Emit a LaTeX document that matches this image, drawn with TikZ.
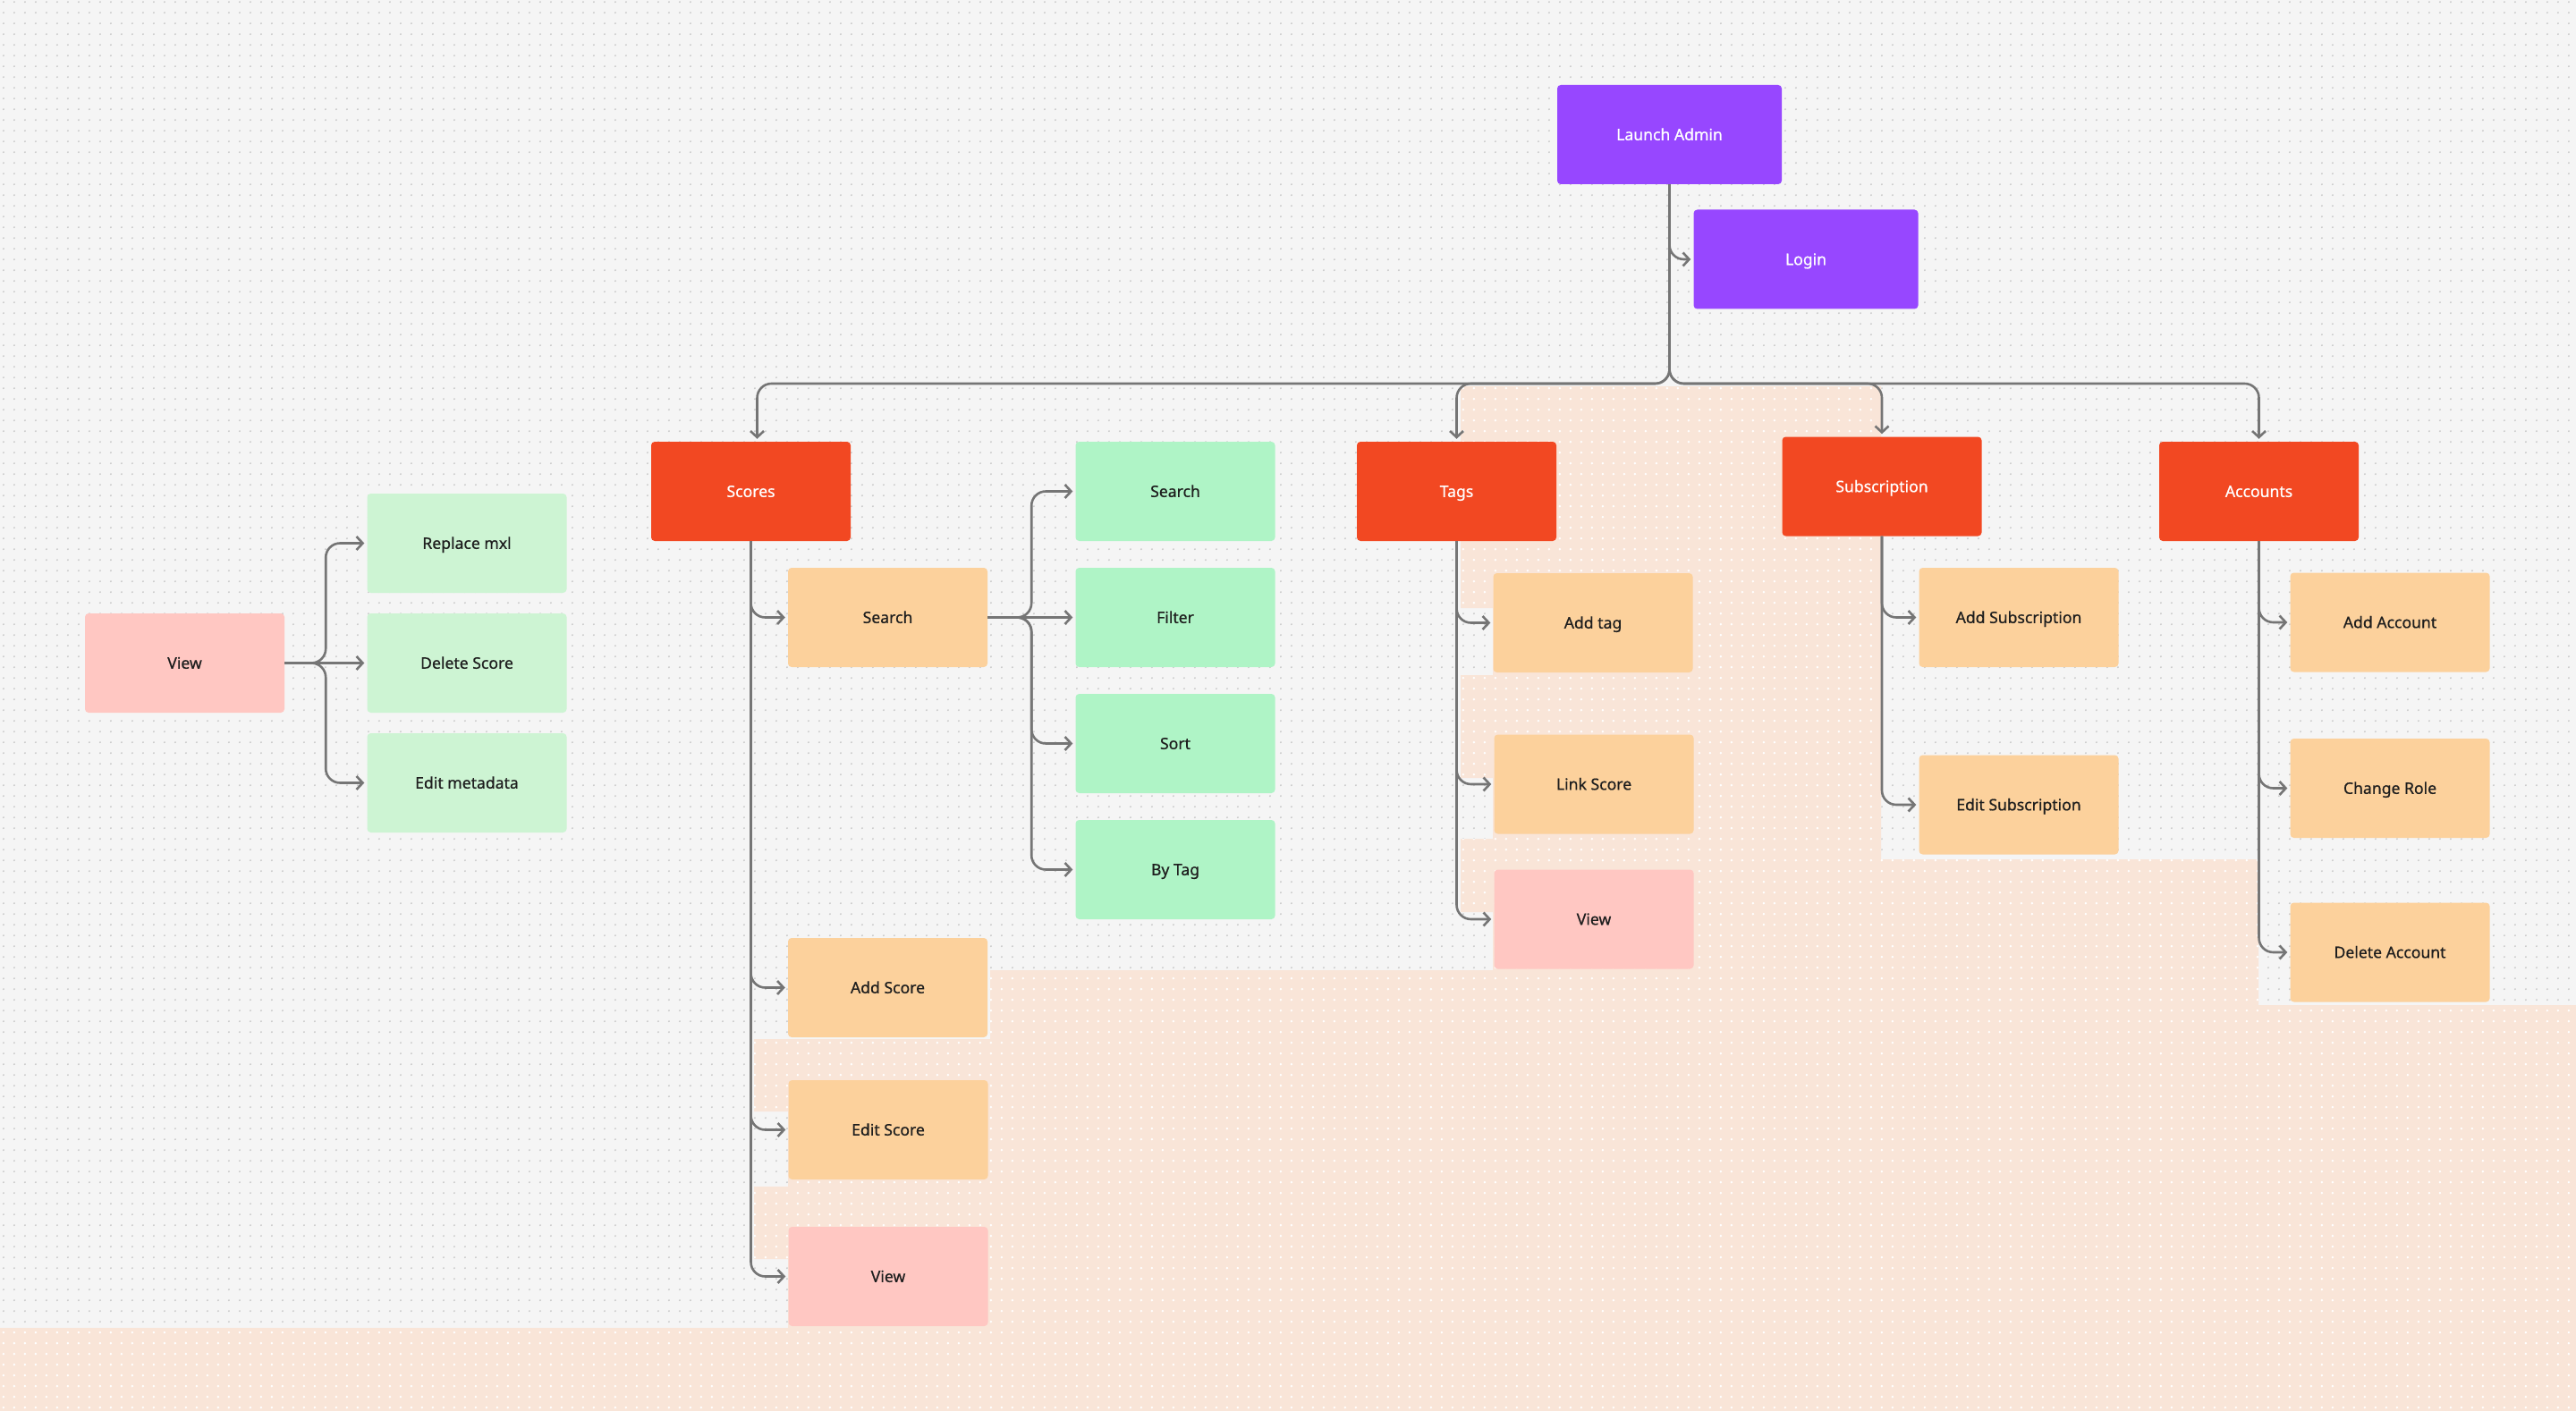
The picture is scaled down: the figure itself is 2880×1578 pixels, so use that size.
\documentclass[tikz,border=0pt]{standalone}
\usepackage{fontspec}
\setmainfont{Noto Sans}[FakeBold=0.6]
\usetikzlibrary{arrows.meta,patterns.meta}
\definecolor{bgc}{HTML}{F5F5F5}
\definecolor{gdot}{HTML}{C9C9C9}
\definecolor{peach}{HTML}{F9E5D8}
\definecolor{purp}{HTML}{9747FF}
\definecolor{redc}{HTML}{F24822}
\definecolor{orng}{HTML}{FCD19C}
\definecolor{grn}{HTML}{AFF4C6}
\definecolor{lgrn}{HTML}{CDF4D3}
\definecolor{pnk}{HTML}{FFC7C2}
\definecolor{txt}{HTML}{1E1E1E}
\definecolor{lc}{HTML}{757575}
\pgfdeclarepattern{
  name=gdots, type=uncolored,
  bottom left={\pgfpoint{0pt}{0pt}},
  top right={\pgfpoint{11.667pt}{11.667pt}},
  tile size={\pgfpoint{11.667pt}{11.667pt}},
  code={\pgfpathcircle{\pgfpoint{4pt}{3.9pt}}{1.1pt}\pgfusepath{fill}}
}
\pgfdeclarepattern{
  name=pdots, type=uncolored,
  bottom left={\pgfpoint{0pt}{0pt}},
  top right={\pgfpoint{11.667pt}{11.667pt}},
  tile size={\pgfpoint{11.667pt}{11.667pt}},
  code={\pgfpathcircle{\pgfpoint{4pt}{3.9pt}}{1.4pt}\pgfusepath{fill}}
}
\begin{document}
\begin{tikzpicture}[x=1pt,y=-1pt,
  box/.style={rectangle, rounded corners=4pt, minimum width=223pt, minimum height=111pt,
    inner sep=0pt, text height=12.6pt, text depth=0pt,
    font=\fontsize{17.6}{21}\selectfont, text=txt},
  purpbox/.style={box, fill=purp, text=white, minimum width=251pt},
  redbox/.style={box, fill=redc, text=white},
  orngbox/.style={box, fill=orng},
  grnbox/.style={box, fill=grn},
  lgrnbox/.style={box, fill=lgrn},
  pnkbox/.style={box, fill=pnk},
  conn/.style={draw=lc, line width=2.6pt, rounded corners=16pt,
    -{Straight Barb[length=7pt,width=15pt]}, shorten >=3pt},
]
\useasboundingbox (0,0) rectangle (2880,1578);
% background
\path[fill=bgc, postaction={pattern=gdots, pattern color=gdot}] (0,0) rectangle (2880,1578);
% peach region
\path[fill=peach, postaction={pattern=pdots, pattern color=white}]
  (1633,432) -- (2103,432) -- (2103,961) -- (2525,961) -- (2525,1124) -- (2880,1124)
  -- (2880,1578) -- (0,1578) -- (0,1485) -- (881,1485) -- (881,1408) -- (843,1408)
  -- (843,1327) -- (881,1327) -- (881,1243) -- (843,1243) -- (843,1162)
  -- (1107,1162) -- (1107,1085) -- (1669,1085) -- (1669,1020) -- (1633,1020)
  -- (1633,938) -- (1669,938) -- (1669,870) -- (1633,870) -- (1633,755)
  -- (1669,755) -- (1669,680) -- (1633,680) -- cycle;

% nodes
\node[purpbox] (LA) at (1866.5,150.5) {Launch Admin};
\node[purpbox] (Login) at (2019,290) {Login};
\node[redbox] (Scores) at (839.5,549.5) {Scores};
\node[redbox] (Tags) at (1628.5,549.5) {Tags};
\node[redbox] (Subs) at (2104,544) {Subscription};
\node[redbox] (Acc) at (2525.5,549.5) {Accounts};

\node[pnkbox] (ViewL) at (206.5,741.5) {View};
\node[lgrnbox] (Repl) at (522,607.5) {Replace mxl};
\node[lgrnbox] (DelS) at (522,741.5) {Delete Score};
\node[lgrnbox] (EditM) at (522,875.5) {Edit metadata};

\node[orngbox] (SearchO) at (992.5,690.5) {Search};
\node[grnbox] (SearchG) at (1314,549.5) {Search};
\node[grnbox] (Filter) at (1314,690.5) {Filter};
\node[grnbox] (Sort) at (1314,831.5) {Sort};
\node[grnbox] (ByTag) at (1314,972.5) {By Tag};
\node[orngbox] (AddS) at (992.5,1104.5) {Add Score};
\node[orngbox] (EditS) at (993,1263.5) {Edit Score};
\node[pnkbox] (ViewS) at (993,1427.5) {View};

\node[orngbox] (AddT) at (1781,696.5) {Add tag};
\node[orngbox] (LinkS) at (1782,877) {Link Score};
\node[pnkbox] (ViewT) at (1782,1028) {View};

\node[orngbox] (AddSub) at (2257,690.5) {Add Subscription};
\node[orngbox] (EditSub) at (2257,900) {Edit Subscription};

\node[orngbox] (AddAcc) at (2672,696) {Add Account};
\node[orngbox] (ChRole) at (2672,881.5) {Change Role};
\node[orngbox] (DelAcc) at (2672,1065) {Delete Account};

% helper coordinates
\coordinate (bar) at (0,429);
\coordinate (sc) at ([xshift=7pt]Scores.north);
\coordinate (sj) at ([xshift=49pt]SearchO.east);
\coordinate (vj) at ([xshift=46pt]ViewL.east);

% connectors
\draw[conn] (LA.south) |- (Login.west);
\draw[conn] (LA.south) |- (bar -| sc) -- (sc);
\draw[conn] (LA.south) |- (bar -| Tags.north) -- (Tags.north);
\draw[conn] (LA.south) |- (bar -| Subs.north) -- (Subs.north);
\draw[conn] (LA.south) |- (bar -| Acc.north) -- (Acc.north);

\draw[conn] (Scores.south) |- (SearchO.west);
\draw[conn] (Scores.south) |- (AddS.west);
\draw[conn] (Scores.south) |- (EditS.west);
\draw[conn] (Scores.south) |- (ViewS.west);

\draw[conn] (SearchO.east) -- (sj) |- (SearchG.west);
\draw[conn] (SearchO.east) -- (Filter.west);
\draw[conn] (SearchO.east) -- (sj) |- (Sort.west);
\draw[conn] (SearchO.east) -- (sj) |- (ByTag.west);

\draw[conn] (ViewL.east) -- (vj) |- (Repl.west);
\draw[conn] (ViewL.east) -- (DelS.west);
\draw[conn] (ViewL.east) -- (vj) |- (EditM.west);

\draw[conn] (Tags.south) |- (AddT.west);
\draw[conn] (Tags.south) |- (LinkS.west);
\draw[conn] (Tags.south) |- (ViewT.west);

\draw[conn] (Subs.south) |- (AddSub.west);
\draw[conn] (Subs.south) |- (EditSub.west);

\draw[conn] (Acc.south) |- (AddAcc.west);
\draw[conn] (Acc.south) |- (ChRole.west);
\draw[conn] (Acc.south) |- (DelAcc.west);
\end{tikzpicture}
\end{document}
